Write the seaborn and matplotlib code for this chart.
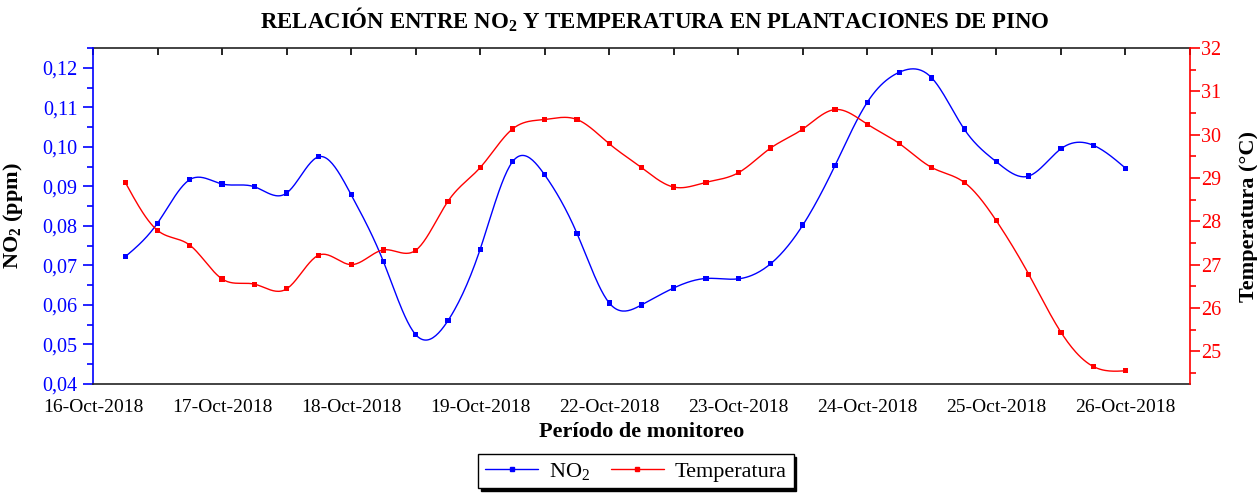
import numpy as np
import pandas as pd
import matplotlib
matplotlib.use("Agg")
import matplotlib.pyplot as plt
import seaborn as sns
from matplotlib.lines import Line2D
from matplotlib.ticker import FuncFormatter, MultipleLocator

# Monitoring series: two readings per tick interval
no2_ppm = [0.0722, 0.0807, 0.0917, 0.0906, 0.0899, 0.0883, 0.0975, 0.0879,
           0.0710, 0.0525, 0.0560, 0.0741, 0.0962, 0.0929, 0.0781, 0.0605,
           0.0600, 0.0643, 0.0667, 0.0666, 0.0704, 0.0802, 0.0953, 0.1113,
           0.1189, 0.1174, 0.1045, 0.0962, 0.0926, 0.0995, 0.1004, 0.0946]
temp_c = [28.90, 27.79, 27.45, 26.67, 26.55, 26.44, 27.22, 27.00,
          27.34, 27.33, 28.46, 29.24, 30.13, 30.35, 30.35, 29.79,
          29.24, 28.79, 28.90, 29.12, 29.69, 30.13, 30.58, 30.24,
          29.79, 29.24, 28.90, 28.01, 26.78, 25.44, 24.65, 24.55]
sample_pos = [0.5 * (i + 1) for i in range(len(no2_ppm))]
date_labels = ["16-Oct-2018", "17-Oct-2018", "18-Oct-2018", "19-Oct-2018",
               "22-Oct-2018", "23-Oct-2018", "24-Oct-2018", "25-Oct-2018",
               "26-Oct-2018"]

BLUE = "#0000FF"
RED = "#FF0000"


def natural_spline(x, y, n=24):
    """Natural cubic spline through (x, y), sampled densely."""
    x = np.asarray(x, float)
    y = np.asarray(y, float)
    k = len(x)
    h = np.diff(x)
    A = np.zeros((k, k))
    b = np.zeros(k)
    A[0, 0] = A[-1, -1] = 1.0
    for i in range(1, k - 1):
        A[i, i - 1] = h[i - 1]
        A[i, i] = 2 * (h[i - 1] + h[i])
        A[i, i + 1] = h[i]
        b[i] = 6 * ((y[i + 1] - y[i]) / h[i] - (y[i] - y[i - 1]) / h[i - 1])
    M = np.linalg.solve(A, b)
    xs, ys = [], []
    for i in range(k - 1):
        t = np.linspace(x[i], x[i + 1], n, endpoint=False)
        a = x[i + 1] - t
        c = t - x[i]
        s = (M[i] * a ** 3 + M[i + 1] * c ** 3) / (6 * h[i]) \
            + (y[i] / h[i] - M[i] * h[i] / 6) * a \
            + (y[i + 1] / h[i] - M[i + 1] * h[i] / 6) * c
        xs.append(t)
        ys.append(s)
    xs.append([x[-1]])
    ys.append([y[-1]])
    return np.concatenate(xs), np.concatenate(ys)


sns.set_style("white")
plt.rcParams["font.family"] = ["Liberation Serif", "DejaVu Serif"]
plt.rcParams["mathtext.fontset"] = "custom"
plt.rcParams["mathtext.rm"] = "Liberation Serif"
plt.rcParams["mathtext.bf"] = "Liberation Serif:bold"
plt.rcParams["mathtext.default"] = "regular"
plt.rcParams["text.color"] = "black"
plt.rcParams["axes.labelcolor"] = "black"
plt.rcParams["xtick.color"] = "black"

fig = plt.figure(figsize=(12.57, 4.93), dpi=100)
ax = fig.add_axes([93 / 1257, 1 - 384 / 493, 1097 / 1257, 336 / 493])
ax2 = ax.twinx()

# NO2 curve (left axis)
sx, sy = natural_spline(sample_pos, no2_ppm)
no2_curve = pd.DataFrame({"x": sx, "y": sy})
sns.lineplot(data=no2_curve, x="x", y="y", ax=ax, color=BLUE, linewidth=1.0,
             estimator=None, sort=False)
sns.scatterplot(x=sample_pos, y=no2_ppm, ax=ax, marker="s", s=14,
                color=BLUE, edgecolor="none", zorder=3)

# Temperature curve (right axis)
tx, ty = natural_spline(sample_pos, temp_c)
temp_curve = pd.DataFrame({"x": tx, "y": ty})
sns.lineplot(data=temp_curve, x="x", y="y", ax=ax2, color=RED, linewidth=1.0,
             estimator=None, sort=False)
sns.scatterplot(x=sample_pos, y=temp_c, ax=ax2, marker="s", s=14,
                color=RED, edgecolor="none", zorder=3)

# X axis
ax.set_xlim(0, 17)
ax.set_xticks(range(18))
ax.set_xticklabels([date_labels[i // 2] if i % 2 == 0 and i // 2 < len(date_labels) else ""
                    for i in range(18)])
ax.tick_params(axis="x", direction="out", length=7, width=1.2, pad=4,
               labelsize=14, colors="black")
top = ax.secondary_xaxis("top")
top.set_xticks(range(18))
top.tick_params(direction="in", length=5, width=1.2, labeltop=False, colors="black")
top.spines["top"].set_linewidth(1.2)
top.spines["top"].set_color("#222222")

# Left axis (NO2)
ax.set_ylim(0.04, 0.125)
ax.yaxis.set_major_locator(MultipleLocator(0.01))
ax.yaxis.set_minor_locator(MultipleLocator(0.005))
ax.yaxis.set_major_formatter(FuncFormatter(lambda v, p: f"{v:.2f}".replace(".", ",")))
ax.tick_params(axis="y", which="major", direction="out", length=7, width=1.2,
               colors=BLUE, labelsize=14.5, pad=4, left=True)
ax.tick_params(axis="y", which="minor", direction="out", length=4, width=1.2,
               colors=BLUE, left=True)
ax.set_ylabel("NO$_\\mathbf{2}$ (ppm)", fontsize=16, fontweight="bold", color="black")
ax.yaxis.set_label_coords(-0.062, 0.5)
ax.set_xlabel("Período de monitoreo", fontsize=16, fontweight="bold", color="black")
ax.xaxis.set_label_coords(0.5, -0.113)

# Right axis (temperature)
ax2.set_ylim(24.245, 32)
ax2.yaxis.set_major_locator(MultipleLocator(1))
ax2.yaxis.set_minor_locator(MultipleLocator(0.5))
ax2.tick_params(axis="y", which="major", direction="out", length=7, width=1.2,
                colors=RED, labelsize=14.5, pad=1, right=True)
ax2.tick_params(axis="y", which="minor", direction="out", length=4, width=1.2,
                colors=RED, right=True)
ax2.set_ylabel("Temperatura (°C)", fontsize=16, fontweight="bold",
               color="black", rotation=90)
ax2.yaxis.set_label_coords(1.045, 0.5)

# Spines
for s in ax.spines.values():
    s.set_linewidth(1.2)
ax.spines["left"].set_color(BLUE)
ax.spines["right"].set_visible(False)
ax.spines["top"].set_visible(False)
ax.spines["bottom"].set_color("#222222")
for name in ("left", "top", "bottom"):
    ax2.spines[name].set_visible(False)
ax2.spines["right"].set_color(RED)
ax2.spines["right"].set_linewidth(1.2)
ax.grid(False)
ax2.grid(False)

# Title
fig.text(655 / 1257, 1 - 20 / 493,
         "RELACIÓN ENTRE NO$_\\mathbf{2}$ Y TEMPERATURA EN PLANTACIONES DE PINO",
         ha="center", va="center", fontsize=16.5, fontweight="bold", color="black")

# Legend
handles = [
    Line2D([], [], color=BLUE, lw=1.0, marker="s", markersize=3.5),
    Line2D([], [], color=RED, lw=1.0, marker="s", markersize=3.5),
]
leg = fig.legend(handles, ["NO$_2$", "Temperatura"], loc="center",
                 bbox_to_anchor=(636 / 1257, 1 - 471 / 493), ncol=2,
                 fontsize=16, frameon=True, fancybox=False,
                 shadow={"color": "black", "alpha": 1.0}, handlelength=2.4,
                 columnspacing=0.9, handletextpad=0.5, borderpad=0.3,
                 labelcolor="black")
leg.get_frame().set_edgecolor("black")
leg.get_frame().set_linewidth(1.0)

fig.savefig("out.png", dpi=100)
